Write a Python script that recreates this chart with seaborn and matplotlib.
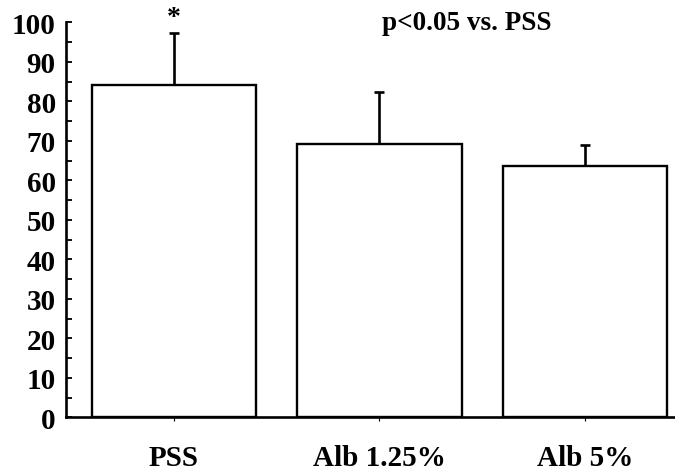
import matplotlib
matplotlib.use("Agg")
import matplotlib.pyplot as plt
from matplotlib.ticker import MultipleLocator
import seaborn as sns
import pandas as pd

groups = ["PSS", "Alb 1.25%", "Alb 5%"]
means = [84.1, 69.1, 63.6]
sems = [13.3, 13.3, 5.3]
yticks = [0, 10, 20, 30, 40, 50, 60, 70, 80, 90, 100]

sns.set_theme(style="white")
plt.rcParams["font.family"] = ["Liberation Serif", "DejaVu Serif"]
plt.rcParams["font.weight"] = "bold"

df = pd.DataFrame({"group": groups, "value": means})
tops = [m + s for m, s in zip(means, sems)]

fig = plt.figure(figsize=(6.75, 4.77), dpi=100)
ax = fig.add_axes([65.5 / 675, 1 - 418.3 / 477, 1 - 65.5 / 675, (418.3 - 23.3) / 477])

sns.barplot(data=df, x="group", y="value", color="white", edgecolor="black",
            linewidth=1.7, width=0.8, errorbar=None, ax=ax, zorder=2)

# one-sided (upper) error bars: stem from bar top plus a cap at the upper end
ax.vlines(range(len(groups)), means, tops, color="black", linewidth=1.9, zorder=3)
ax.plot(range(len(groups)), tops, linestyle="none", marker="_", markersize=7,
        markeredgewidth=1.9, color="black", zorder=3)

ax.set_xlim(-0.528, 2.438)
ax.set_ylim(0, 100)
ax.set_yticks(yticks)
ax.set_yticklabels([str(v) for v in yticks])
ax.yaxis.set_minor_locator(MultipleLocator(5))
ax.set_xlabel("")
ax.set_ylabel("")

for side in ["top", "right"]:
    ax.spines[side].set_visible(False)
for side in ["left", "bottom"]:
    ax.spines[side].set_color("black")
    ax.spines[side].set_linewidth(1.9)

ax.tick_params(axis="y", which="both", direction="in", length=4.5, width=1.3,
               color="black", left=True, pad=7, labelsize=21)
ax.tick_params(axis="x", direction="inout", length=6, width=0.8, color="black",
               bottom=True, pad=16, labelsize=21)
for lab in ax.get_xticklabels() + ax.get_yticklabels():
    lab.set_fontweight("bold")
    lab.set_color("black")

ax.text(0, 101.2, "*", ha="center", va="center", fontsize=20, fontweight="bold",
        color="black", clip_on=False)
ax.text(1.426, 100, "p<0.05 vs. PSS", ha="center", va="center", fontsize=19.5,
        fontweight="bold", color="black", clip_on=False)

fig.savefig("out.png", dpi=100)
